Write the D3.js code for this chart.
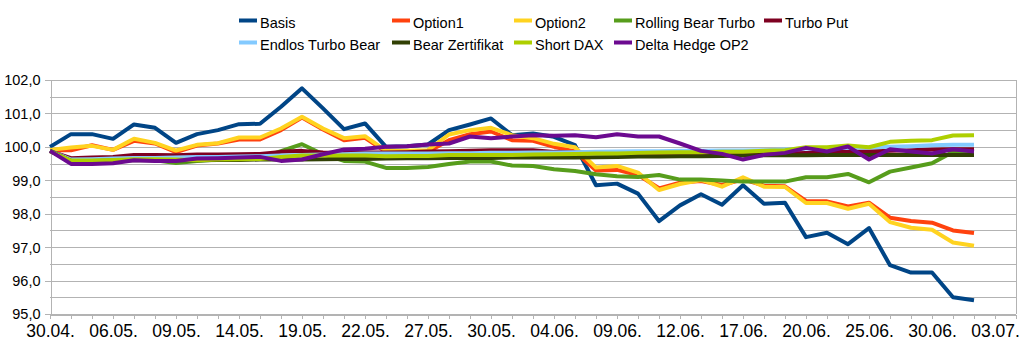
<!DOCTYPE html>
<html><head><meta charset="utf-8">
<script src="https://cdn.jsdelivr.net/npm/d3@7"></script>
<style>
body{margin:0;background:#fff}
svg{display:block}
text{font-family:"Liberation Sans",Arial,sans-serif;fill:#000}
</style>
</head><body><svg id="c" width="1027" height="343"></svg>
<script>
// ---- data ----
const dates = ["30.04.","02.05.","05.05.","06.05.","07.05.","08.05.","09.05.","12.05.","13.05.","14.05.",
  "15.05.","16.05.","19.05.","20.05.","21.05.","22.05.","23.05.","26.05.","27.05.","28.05.",
  "29.05.","30.05.","02.06.","03.06.","04.06.","05.06.","06.06.","09.06.","10.06.","11.06.",
  "12.06.","13.06.","16.06.","17.06.","18.06.","19.06.","20.06.","23.06.","24.06.","25.06.",
  "26.06.","27.06.","30.06.","01.07.","02.07.","03.07."];

const basis = [100.0,100.38,100.38,100.24,100.67,100.57,100.12,100.38,100.5,100.68,
  100.69,101.2,101.75,101.15,100.53,100.7,100.0,100.02,100.07,100.5,
  100.67,100.85,100.35,100.4,100.3,100.05,98.85,98.9,98.6,97.78,
  98.25,98.58,98.27,98.85,98.3,98.33,97.3,97.43,97.09,97.57,
  96.46,96.24,96.24,95.5,95.41];
const option1 = [99.9,99.9,100.05,99.91,100.18,100.1,99.84,100.04,100.1,100.22,
  100.22,100.5,100.88,100.52,100.2,100.27,99.85,99.85,99.85,100.2,
  100.38,100.46,100.2,100.18,100.0,99.86,99.29,99.31,99.16,98.76,
  98.93,98.98,98.86,99.03,98.84,98.82,98.38,98.37,98.22,98.33,
  97.88,97.78,97.73,97.5,97.42];
const option2 = [99.91,99.98,100.03,99.91,100.24,100.12,99.89,100.06,100.11,100.28,
  100.28,100.55,100.9,100.55,100.26,100.32,99.88,99.88,99.9,100.37,
  100.5,100.57,100.35,100.26,100.09,99.99,99.38,99.43,99.23,98.71,
  98.89,99.01,98.81,99.09,98.81,98.8,98.32,98.32,98.15,98.3,
  97.75,97.58,97.52,97.14,97.04];
const rollingBearTurbo = [99.88,99.58,99.58,99.6,99.62,99.6,99.52,99.58,99.62,99.64,
  99.66,99.87,100.08,99.78,99.58,99.56,99.37,99.37,99.4,99.49,
  99.56,99.56,99.44,99.43,99.33,99.28,99.18,99.12,99.1,99.16,
  99.02,99.02,98.99,98.96,98.96,98.96,99.09,99.09,99.19,98.94,
  99.26,99.38,99.51,99.85,99.85];
const turboPut = [99.87,99.66,99.68,99.7,99.76,99.76,99.75,99.77,99.77,99.78,
  99.79,99.85,99.88,99.83,99.82,99.83,99.83,99.84,99.86,99.87,
  99.88,99.9,99.9,99.9,99.85,99.83,99.82,99.82,99.8,99.8,
  99.79,99.79,99.79,99.79,99.8,99.8,99.82,99.83,99.86,99.86,
  99.88,99.9,99.92,99.93,99.93];
const endlosTurboBear = [99.88,99.62,99.63,99.65,99.67,99.67,99.68,99.7,99.7,99.71,
  99.72,99.74,99.76,99.77,99.78,99.8,99.8,99.8,99.8,99.81,
  99.81,99.82,99.82,99.83,99.83,99.84,99.85,99.86,99.87,99.87,
  99.88,99.88,99.89,99.89,99.9,99.92,99.95,99.96,99.97,99.98,
  100.0,100.02,100.05,100.06,100.06];
const bearZertifikat = [99.88,99.58,99.58,99.59,99.6,99.6,99.6,99.6,99.61,99.61,
  99.62,99.62,99.62,99.63,99.64,99.64,99.65,99.66,99.66,99.67,
  99.67,99.67,99.68,99.68,99.68,99.68,99.69,99.7,99.71,99.71,
  99.72,99.72,99.73,99.74,99.75,99.75,99.75,99.76,99.76,99.76,
  99.76,99.76,99.76,99.76,99.76];
const shortDAX = [99.87,99.59,99.59,99.61,99.63,99.63,99.62,99.6,99.62,99.63,
  99.64,99.7,99.74,99.74,99.74,99.74,99.72,99.73,99.73,99.76,
  99.76,99.76,99.76,99.77,99.78,99.79,99.8,99.8,99.82,99.83,
  99.84,99.84,99.85,99.85,99.88,99.9,99.99,99.99,100.04,99.99,
  100.15,100.18,100.2,100.34,100.35];
const deltaHedgeOP2 = [99.88,99.49,99.49,99.51,99.6,99.58,99.58,99.65,99.66,99.68,
  99.7,99.58,99.62,99.78,99.92,99.94,100.0,100.02,100.07,100.1,
  100.31,100.26,100.31,100.35,100.33,100.35,100.29,100.38,100.31,100.31,
  100.1,99.88,99.79,99.62,99.76,99.82,99.97,99.86,100.01,99.62,
  99.93,99.86,99.8,99.93,99.86];

const seriesNames = ["Basis","Option1","Option2","Rolling Bear Turbo","Turbo Put",
  "Endlos Turbo Bear","Bear Zertifikat","Short DAX","Delta Hedge OP2"];
const seriesValues = [basis, option1, option2, rollingBearTurbo, turboPut,
  endlosTurboBear, bearZertifikat, shortDAX, deltaHedgeOP2];
const yTickValues = [95, 96, 97, 98, 99, 100, 101, 102];

// ---- styles / layout ----
const colors = ["#004586","#ff420e","#ffd320","#579d1c","#7e0021",
  "#83caff","#314004","#aecf00","#6c0a90"];
const gridColor = "#b3b3b3";
const legendColX = [239, 392, 514, 614, 764];
const legendRowY = [20.5, 42.5];

const svg = d3.select("#c");
svg.append("rect").attr("width",1027).attr("height",343).attr("fill","#fff");

const x = d3.scaleLinear().domain([0, dates.length]).range([50, 1016]);
const y = d3.scaleLinear().domain([95, 102]).range([314, 80]);
const fmt = v => d3.format(".1f")(v).replace(".", ",");

// grid lines every 0.5
const gridVals = d3.range(95, 102.001, 0.5);
svg.append("g").selectAll("line").data(gridVals).join("line")
  .attr("x1", x(0)).attr("x2", x(dates.length))
  .attr("y1", d => Math.round(y(d)) + 0.5).attr("y2", d => Math.round(y(d)) + 0.5)
  .attr("stroke", gridColor).attr("stroke-width", 1).attr("shape-rendering","crispEdges");

// right border
svg.append("line")
  .attr("x1", Math.round(x(dates.length)) + 0.5).attr("x2", Math.round(x(dates.length)) + 0.5)
  .attr("y1", y(102)).attr("y2", y(95))
  .attr("stroke", gridColor).attr("shape-rendering","crispEdges");

// y axis
const yAxis = d3.axisLeft(y).tickValues(yTickValues).tickFormat(fmt).tickSize(6).tickSizeOuter(0);
const gy = svg.append("g").attr("transform", `translate(${x(0)+0.5},0)`).call(yAxis);
gy.select(".domain").attr("stroke", gridColor).attr("shape-rendering","crispEdges");
gy.selectAll(".tick line").attr("stroke", gridColor).attr("shape-rendering","crispEdges");
gy.selectAll(".tick text").attr("font-size", "14.5px")
  .attr("font-family", '"Liberation Sans",Arial,sans-serif')
  .attr("x", -10).attr("dy", "0.34em").attr("fill", "#000");

// x axis
const xAxis = d3.axisBottom(x)
  .tickValues(d3.range(0, dates.length + 1))
  .tickFormat(i => (i % 3 === 0 && dates[i]) ? dates[i] : "")
  .tickSize(4).tickSizeOuter(0);
const gx = svg.append("g").attr("transform", `translate(0,${Math.round(y(95))+0.5})`).call(xAxis);
gx.select(".domain").attr("stroke", gridColor).attr("shape-rendering","crispEdges");
gx.selectAll(".tick line").attr("stroke", gridColor).attr("shape-rendering","crispEdges");
gx.selectAll(".tick text").attr("font-size", "17.5px")
  .attr("font-family", '"Liberation Sans",Arial,sans-serif')
  .attr("y", 10.5).attr("fill", "#000");

// lines
const line = d3.line().x((d, i) => x(i)).y(d => y(d));
svg.append("g").selectAll("path").data(seriesValues).join("path")
  .attr("d", d => line(d))
  .attr("fill", "none")
  .attr("stroke", (d, i) => colors[i])
  .attr("stroke-width", 4)
  .attr("stroke-linejoin", "round")
  .attr("stroke-linecap", "butt");

// legend
const leg = svg.append("g").selectAll("g").data(seriesNames).join("g")
  .attr("transform", (d, i) => {
    const row = i < 5 ? 0 : 1, col = i < 5 ? i : i - 5;
    return `translate(${legendColX[col]},${legendRowY[row]})`;
  });
leg.append("rect").attr("x", 0).attr("y", -2).attr("width", 18).attr("height", 4)
  .attr("fill", (d, i) => colors[i]);
leg.append("text").attr("x", 21).attr("y", 7.5).attr("font-size", "14.5px").text(d => d);
</script>
</body></html>
